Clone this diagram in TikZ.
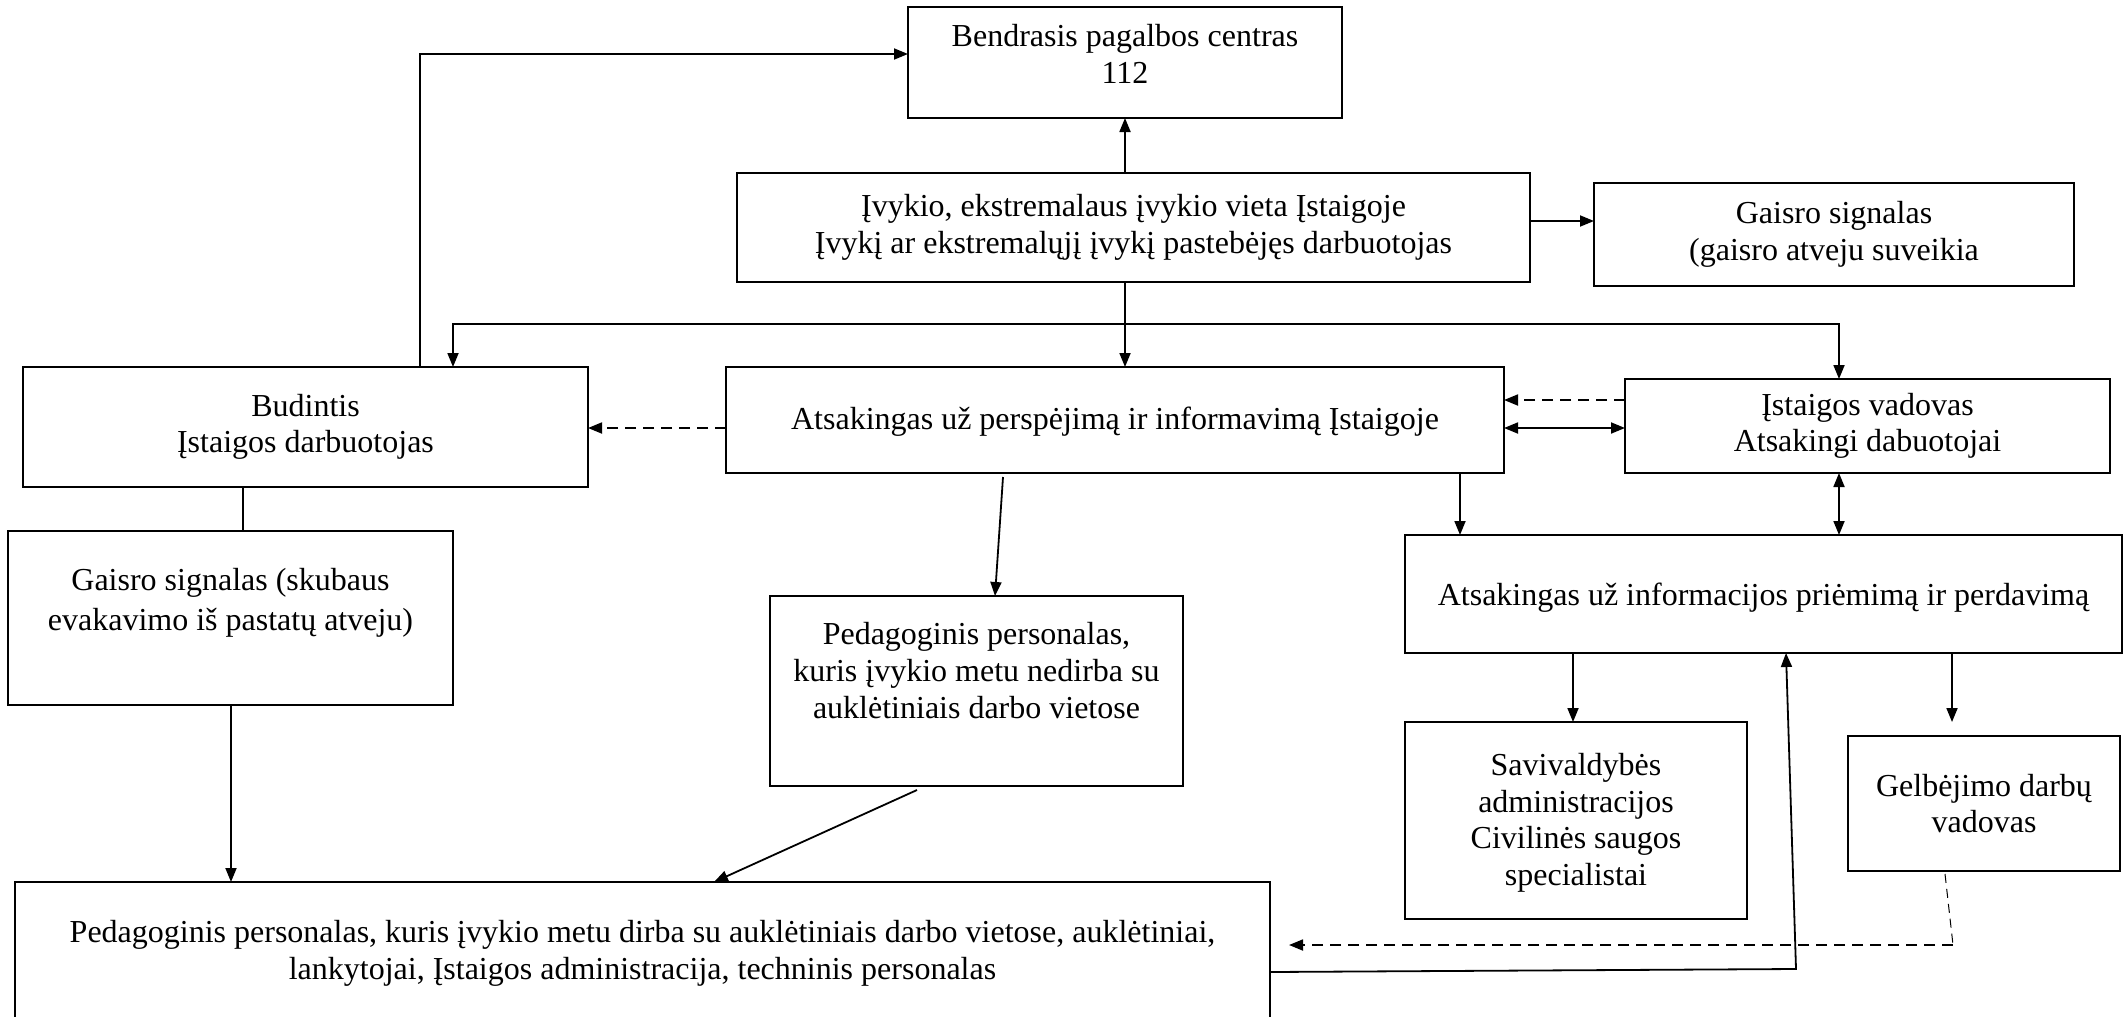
\documentclass[tikz,border=0pt]{standalone}
\usepackage{fontspec}
\setmainfont{Liberation Serif}
\usetikzlibrary{arrows.meta,calc}
\newcommand\bxt[4]{\parbox[c][#2][#3]{#1}{\centering #4\par}}
\begin{document}
\begin{tikzpicture}[x=1pt,y=-1pt,
  box/.style={draw, line width=2pt, inner sep=0pt, outer sep=0pt, font=\fontsize{32}{36.5}\selectfont},
  arr/.style={line width=1.8pt, -{Triangle[length=14pt,width=11pt]}},
  dbl/.style={line width=1.8pt, {Triangle[length=14pt,width=11pt]}-{Triangle[length=14pt,width=11pt]}},
  darr/.style={line width=1.8pt, dash pattern=on 11pt off 7pt, -{Triangle[length=14pt,width=11pt]}},
  plain/.style={line width=1.8pt},
  thindash/.style={line width=1pt, dash pattern=on 9pt off 6pt}]
\useasboundingbox (0,0) rectangle (2125,1017);
\clip (0,0) rectangle (2125,1017);
\fill[white] (0,0) rectangle (2125,1017);

\node[box] (bpc) at (1125,62.5) {\bxt{434pt}{111pt}{t}{\vspace*{14pt}\strut Bendrasis pagalbos centras\\112}};
\node[box] (ivy) at (1133.5,227.5) {\bxt{793pt}{109pt}{c}{Įvykio, ekstremalaus įvykio vieta Įstaigoje\\Įvykį ar ekstremalųjį įvykį pastebėjęs darbuotojas}};
\node[box] (gaisR) at (1834,234.5) {\bxt{480pt}{103pt}{t}{\vspace*{15pt}\strut Gaisro signalas\\(gaisro atveju suveikia}};
\node[box] (bud) at (305.5,427) {\bxt{565pt}{120pt}{c}{Budintis\\Įstaigos darbuotojas}};
\node[box] (atsP) at (1115,420) {\bxt{778pt}{106pt}{c}{\vspace*{3pt}Atsakingas už perspėjimą ir informavimą Įstaigoje}};
\node[box] (vad) at (1867.5,426) {\bxt{485pt}{94pt}{c}{Įstaigos vadovas\\Atsakingi dabuotojai}};
\node[box, font=\fontsize{32}{40}\selectfont] (gaisL) at (230.5,618) {\bxt{445pt}{174pt}{t}{\vspace*{31pt}\strut Gaisro signalas (skubaus\\evakavimo iš pastatų atveju)}};
\node[box, font=\fontsize{32}{37}\selectfont] (pedN) at (976.5,691) {\bxt{413pt}{190pt}{t}{\vspace*{23pt}\strut Pedagoginis personalas,\\kuris įvykio metu nedirba su\\auklėtiniais darbo vietose}};
\node[box] (atsI) at (1763.5,594) {\bxt{717pt}{118pt}{c}{\vspace*{8pt}Atsakingas už informacijos priėmimą ir perdavimą}};
\node[box] (sav) at (1576,820.5) {\bxt{342pt}{197pt}{c}{\vspace*{5pt}Savivaldybės\\administracijos\\Civilinės saugos\\specialistai}};
\node[box] (gel) at (1984,803.5) {\bxt{272pt}{135pt}{c}{Gelbėjimo darbų\\vadovas}};
\node[box] (bot) at (642.5,953.5) {\bxt{1255pt}{143pt}{c}{Pedagoginis personalas, kuris įvykio metu dirba su auklėtiniais darbo vietose, auklėtiniai,\\lankytojai, Įstaigos administracija, techninis personalas}};

% connectors
\draw[arr] (ivy.north -| bpc.south) -- (bpc.south);
\draw[arr] ($(bud.north)+(114.5,0)$) |- ($(bpc.west)+(0,-8.5)$);
\draw[arr] ($(ivy.east)+(0,-6.5)$) coordinate (g1) -- (g1 -| gaisR.west);
\draw[arr] (ivy.south -| bpc.south) -- (atsP.north -| bpc.south);
\coordinate (sp) at ($(ivy.south -| bpc.south)+(0,42)$);
\draw[arr] (sp) -| ($(bud.north)+(147.5,0)$);
\draw[arr] (sp) -| ($(vad.north)+(-28.5,0)$);
\draw[darr] ($(atsP.west)+(0,8)$) coordinate (d1) -- (d1 -| bud.east);
\draw[darr] ($(vad.west)+(0,-26)$) coordinate (d2) -- (d2 -| atsP.east);
\draw[dbl] ($(atsP.east)+(0,8)$) coordinate (d3) -- (d3 -| vad.west);
\draw[dbl] ($(vad.south)+(-28.5,0)$) coordinate (v1) -- (v1 |- atsI.north);
\draw[arr] ($(atsP.south)+(345,0)$) coordinate (a1) -- (a1 |- atsI.north);
\draw[arr] ($(atsP.south)+(-112,4)$) -- ($(pedN.north)+(18.5,0)$);
\draw[plain] ($(bud.south)+(-62.5,0)$) coordinate (b1) -- (b1 |- gaisL.north);
\draw[arr] ($(gaisL.south)+(0.5,0)$) coordinate (b2) -- (b2 |- bot.north);
\draw[arr] ($(pedN.south)+(-59.5,4)$) -- ($(bot.north)+(71.5,0)$);
\draw[arr] ($(atsI.south)+(-190.5,0)$) coordinate (s1) -- (s1 |- sav.north);
\draw[arr, shorten >=14pt] ($(atsI.south)+(188.5,0)$) coordinate (s2) -- (s2 |- gel.north);
\draw[thindash] ($(gel.south)+(-39,3)$) -- ($(gel.south)+(-31,74)$) coordinate (g2);
\draw[darr, shorten >=19pt] (g2) -- (g2 -| bot.east);
\draw[arr] ($(bot.east)+(0,18.5)$) -- ($(bot.east)+(526,15.5)$) -- ($(atsI.south)+(22.5,0)$);
\end{tikzpicture}
\end{document}
